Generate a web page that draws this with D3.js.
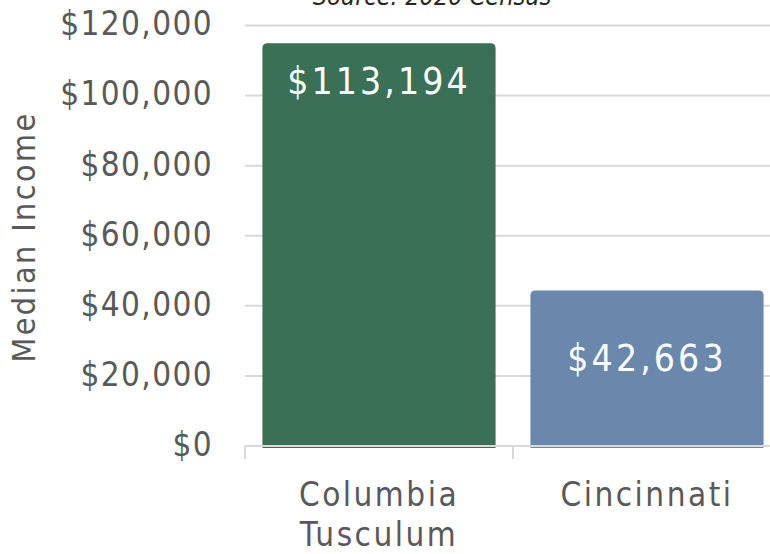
<!DOCTYPE html>
<html>
<head>
<meta charset="utf-8">
<script src="https://cdn.jsdelivr.net/npm/d3@7"></script>
<style>
  body { margin: 0; background: #fff; }
  text { font-family: "DejaVu Sans Condensed", "DejaVu Sans", sans-serif; fill: #595959; }
</style>
</head>
<body>
<div id="chart"></div>
<script>
// data
const categories = ["Columbia Tusculum", "Cincinnati"];
const incomes = [113194, 42663];
const barColors = ["#3a7055", "#6988ab"];
const yTicks = [0, 20000, 40000, 60000, 80000, 100000, 120000];

const width = 770, height = 554;

const svg = d3.select("#chart")
    .append("svg")
    .attr("width", width)
    .attr("height", height);

// scales
const x = d3.scaleBand()
    .domain(categories)
    .range([245, 781])
    .paddingInner(0.13)
    .paddingOuter(0.065);

const y = d3.scaleLinear()
    .domain([0, 120000])
    .range([446, 25.5]);

const fmt = d => "$" + d3.format(",")(d);

// gridlines
svg.append("g")
    .selectAll("line")
    .data(yTicks.filter(d => d > 0))
    .join("line")
    .attr("x1", 245).attr("x2", width)
    .attr("y1", d => y(d)).attr("y2", d => y(d))
    .attr("stroke", "#d9d9d9")
    .attr("stroke-width", 2);

// y tick labels
svg.append("g")
    .selectAll("text")
    .data(yTicks)
    .join("text")
    .attr("x", 213)
    .attr("y", d => y(d) - 2)
    .attr("dy", "0.36em")
    .attr("text-anchor", "end")
    .style("font-size", "33px")
    .style("letter-spacing", "1.4px")
    .text(fmt);

// bars with rounded top corners
const r = 5, lift = 6;
function barPath(d, i) {
    const x0 = x(categories[i]), w = x.bandwidth();
    const top = y(d) - lift, bottom = y(0) + 2;
    return `M${x0},${bottom} V${top + r} Q${x0},${top} ${x0 + r},${top} ` +
           `H${x0 + w - r} Q${x0 + w},${top} ${x0 + w},${top + r} V${bottom} Z`;
}

svg.append("g")
    .selectAll("path")
    .data(incomes)
    .join("path")
    .attr("d", barPath)
    .attr("fill", (d, i) => barColors[i]);

// x axis baseline and ticks
const xAxis = svg.append("g").attr("stroke", "#d9d9d9").attr("stroke-width", 2);
xAxis.append("line")
    .attr("x1", 245).attr("x2", width)
    .attr("y1", y(0)).attr("y2", y(0));
xAxis.selectAll("line.tick")
    .data([245, 245 + x.step(), 245 + 2 * x.step()])
    .join("line")
    .attr("class", "tick")
    .attr("x1", d => d).attr("x2", d => d)
    .attr("y1", y(0)).attr("y2", y(0) + 13);

// value labels
const labelY = [y(incomes[0]) + 45, y(incomes[1]) + 74];
svg.append("g")
    .selectAll("text")
    .data(incomes)
    .join("text")
    .attr("x", (d, i) => x(categories[i]) + x.bandwidth() / 2)
    .attr("y", (d, i) => labelY[i])
    .attr("text-anchor", "middle")
    .style("fill", "#fff")
    .style("font-size", "37px")
    .style("letter-spacing", "3.1px")
    .text(fmt);

// category labels (wrapped)
const catText = svg.append("g")
    .selectAll("text")
    .data(categories)
    .join("text")
    .attr("x", d => x(d) + x.bandwidth() / 2)
    .attr("y", 506)
    .attr("text-anchor", "middle")
    .style("font-size", "33px")
    .style("letter-spacing", "2.5px");

catText.selectAll("tspan")
    .data(d => d.split(" "))
    .join("tspan")
    .attr("x", function () { return d3.select(this.parentNode).attr("x"); })
    .attr("dy", (d, i) => i === 0 ? 0 : 40)
    .text(d => d);

// axis title
svg.append("text")
    .attr("transform", "translate(35,237) rotate(-90)")
    .attr("text-anchor", "middle")
    .style("font-size", "32px")
    .style("letter-spacing", "2.4px")
    .text("Median Income");

// source note, clipped at the top edge
svg.append("text")
    .attr("x", 432)
    .attr("y", 5)
    .attr("text-anchor", "middle")
    .style("font-size", "25px")
    .style("font-style", "italic")
    .style("fill", "#262626")
    .text("Source: 2020 Census");
</script>
</body>
</html>
